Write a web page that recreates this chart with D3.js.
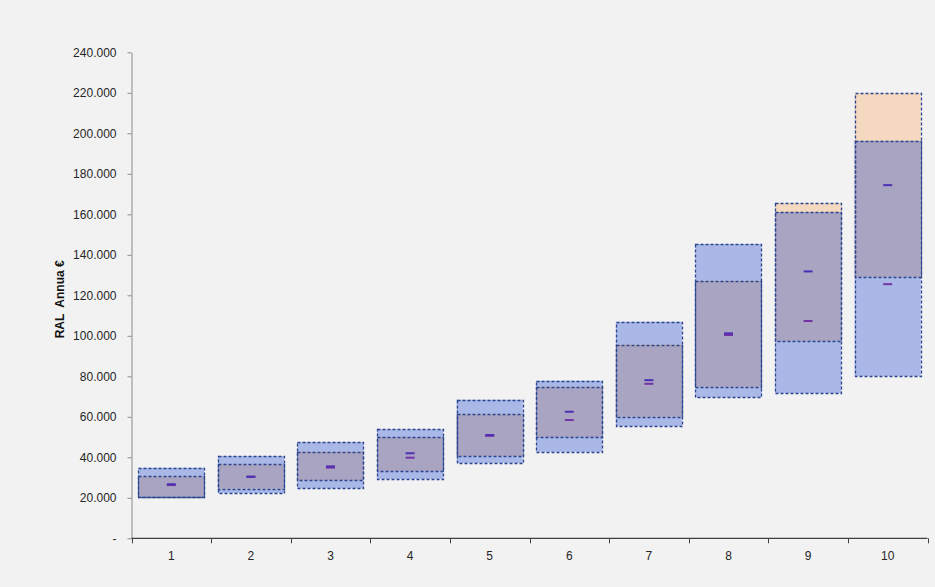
<!DOCTYPE html>
<html>
<head>
<meta charset="utf-8">
<script src="https://cdn.jsdelivr.net/npm/d3@7"></script>
<style>
  html, body { margin: 0; padding: 0; background: #f2f2f2; }
  svg { display: block; }
  text { font-family: "Liberation Sans", Arial, sans-serif; }
</style>
</head>
<body>
<svg id="chart" width="935" height="587"></svg>
<script>
// Livelli retributivi
const categories = ["1", "2", "3", "4", "5", "6", "7", "8", "9", "10"];

// Fascia A (azzurra): minimo e massimo RAL
const rangeAMin = [20200, 22400, 24700, 29300, 37200, 42700, 55400, 69600, 71700, 80100];
const rangeAMax = [34800, 40600, 47500, 53800, 68400, 77800, 106900, 145300, 161100, 196300];

// Fascia B (arancio): minimo e massimo RAL
const rangeBMin = [20400, 24500, 28600, 33200, 40600, 50000, 60000, 74800, 97400, 129000];
const rangeBMax = [30600, 36500, 42800, 50000, 61200, 74800, 95700, 127200, 165600, 219800];

// Mediane delle due fasce
const medianA = [26300, 30400, 34900, 39800, 50600, 58400, 76300, 100400, 107300, 125500];
const medianB = [26700, 30400, 35500, 42000, 51000, 62500, 78100, 101200, 131800, 174400];

// Valori dell'asse verticale
const yTicks = [0, 20000, 40000, 60000, 80000, 100000, 120000, 140000, 160000, 180000, 200000, 220000, 240000];

const svg = d3.select("#chart");
const W = 935, H = 587;
svg.append("rect").attr("width", W).attr("height", H).attr("fill", "#f2f2f2");

const plot = { left: 131.5, right: 927.5, top: 52.3, bottom: 538.3 };

const x = d3.scaleBand()
  .domain(categories)
  .range([plot.left, plot.right])
  .paddingInner(0.17)
  .paddingOuter(0.085);

const y = d3.scaleLinear()
  .domain([0, 240000])
  .range([plot.bottom, plot.top]);

const it = d3.formatLocale({ decimal: ",", thousands: ".", grouping: [3], currency: ["", " €"] });
const fmt = v => v === 0 ? "-" : it.format(",.0f")(v);

const colA = "#aab8e8", colB = "#f5d8c0", colAB = "#a8a4c1";
const edge = "#2a4690";

const rows = categories.map((c, i) => ({
  c,
  aMin: rangeAMin[i], aMax: rangeAMax[i],
  bMin: rangeBMin[i], bMax: rangeBMax[i],
  mA: medianA[i], mB: medianB[i]
}));

const g = svg.append("g");

// Riempimenti delle fasce
g.selectAll("rect.a").data(rows).join("rect")
  .attr("x", d => x(d.c)).attr("width", x.bandwidth())
  .attr("y", d => y(d.aMax)).attr("height", d => y(d.aMin) - y(d.aMax))
  .attr("fill", colA);

g.selectAll("rect.b").data(rows).join("rect")
  .attr("x", d => x(d.c)).attr("width", x.bandwidth())
  .attr("y", d => y(d.bMax)).attr("height", d => y(d.bMin) - y(d.bMax))
  .attr("fill", colB);

// Zona di sovrapposizione tra le due fasce
g.selectAll("rect.ab").data(rows).join("rect")
  .attr("x", d => x(d.c)).attr("width", x.bandwidth())
  .attr("y", d => y(Math.min(d.aMax, d.bMax)))
  .attr("height", d => Math.max(0, y(Math.max(d.aMin, d.bMin)) - y(Math.min(d.aMax, d.bMax))))
  .attr("fill", colAB);

// Bordi tratteggiati
[["aMin", "aMax"], ["bMin", "bMax"]].forEach(([lo, hi]) => {
  g.append("g").selectAll("rect").data(rows).join("rect")
    .attr("x", d => Math.round(x(d.c)) + 0.5).attr("width", Math.round(x.bandwidth()))
    .attr("y", d => Math.round(y(d[hi])) + 0.5)
    .attr("height", d => Math.round(y(d[lo])) - Math.round(y(d[hi])))
    .attr("fill", "none")
    .attr("stroke", edge).attr("stroke-width", 1.3)
    .attr("stroke-dasharray", "3,2");
});

// Mediane
const mw = 9;
g.selectAll("rect.mA").data(rows).join("rect")
  .attr("x", d => x(d.c) + x.bandwidth() / 2 - mw / 2).attr("width", mw)
  .attr("y", d => y(d.mA) - 1).attr("height", 2)
  .attr("fill", "#7434a6");
g.selectAll("rect.mB").data(rows).join("rect")
  .attr("x", d => x(d.c) + x.bandwidth() / 2 - mw / 2).attr("width", mw)
  .attr("y", d => y(d.mB) - 1).attr("height", 2)
  .attr("fill", "#4f30b4");

// Asse verticale
const yAxis = svg.append("g")
  .attr("transform", `translate(${plot.left},0)`)
  .call(d3.axisLeft(y).tickValues(yTicks).tickFormat(fmt).tickSize(4).tickSizeOuter(0).tickPadding(11));
yAxis.select(".domain").attr("stroke", "#8a8a8a");
yAxis.selectAll(".tick line").attr("stroke", "#8a8a8a");
yAxis.selectAll(".tick text")
  .attr("font-size", 12).attr("fill", "#262626")
  .attr("font-family", "'Liberation Sans', Arial, sans-serif");

// Asse orizzontale con tacche ai confini delle categorie
const step = x.step();
const bounds = categories.map(c => x(c) - step * x.paddingInner() / 2).concat([plot.right]);
const xAxis = svg.append("g");
xAxis.append("line")
  .attr("x1", plot.left).attr("x2", plot.right)
  .attr("y1", plot.bottom).attr("y2", plot.bottom)
  .attr("stroke", "#404040").attr("stroke-width", 1.2);
xAxis.selectAll("line.t").data(bounds).join("line")
  .attr("x1", d => Math.round(d) + 0.5).attr("x2", d => Math.round(d) + 0.5)
  .attr("y1", plot.bottom).attr("y2", plot.bottom + 5)
  .attr("stroke", "#404040");
xAxis.selectAll("text").data(categories).join("text")
  .attr("x", c => x(c) + x.bandwidth() / 2)
  .attr("y", plot.bottom + 22)
  .attr("text-anchor", "middle")
  .attr("font-size", 12).attr("fill", "#262626")
  .text(c => c);

// Titolo asse verticale
svg.append("text")
  .attr("transform", `translate(64,${(plot.top + plot.bottom) / 2 + 4}) rotate(-90)`)
  .attr("text-anchor", "middle")
  .attr("font-size", 12).attr("font-weight", "bold").attr("fill", "#111")
  .attr("xml:space", "preserve")
  .text("RAL  Annua €");
</script>
</body>
</html>
